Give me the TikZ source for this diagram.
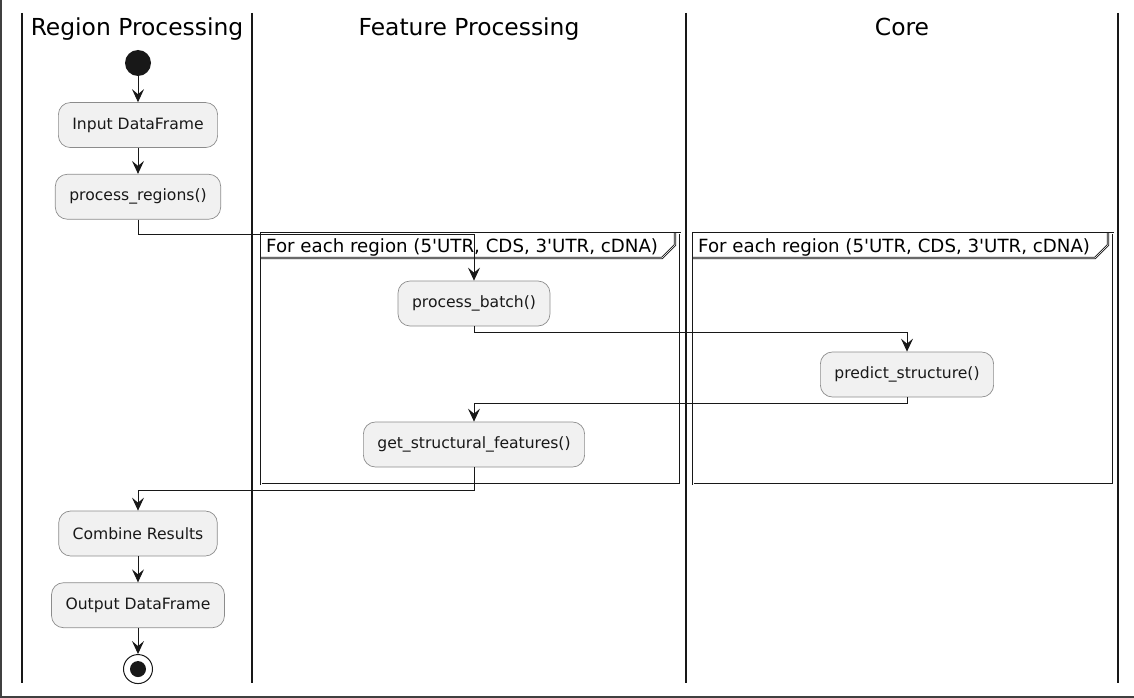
\documentclass[tikz,border=0pt]{standalone}
\usepackage{fontspec}
\setmainfont{DejaVu Sans}[Ligatures=TeXOff]
\usepackage{tikz}
\usetikzlibrary{arrows.meta,positioning}
\definecolor{boxfill}{RGB}{241,241,241}
\definecolor{boxline}{RGB}{140,140,140}
\definecolor{ink}{RGB}{24,24,24}
\tikzstyle{activity} = [rectangle, rounded corners=12pt, minimum height=45pt, inner xsep=14pt, draw=boxline, line width=0.7pt, fill=boxfill, text=ink, font=\fontsize{15.6}{18}\selectfont]
\tikzstyle{lanetitle} = [anchor=base, font=\fontsize{23.4}{28}\selectfont]
\tikzstyle{looplabel} = [anchor=base west, inner sep=0pt, font=\fontsize{18.2}{22}\selectfont]
\tikzstyle{lane} = [line width=1.6pt, ink]
\tikzstyle{loopframe} = [line width=0.9pt, double, double distance=0.6pt, ink]
\tikzstyle{arrow} = [line width=1pt, ink, -{Stealth[length=13pt,width=12pt,inset=5pt]}]
\newcommand{\loopname}{For each region (5'UTR, CDS, 3'UTR, cDNA)}

\begin{document}
\begin{tikzpicture}[x=1pt,y=-1pt]
\useasboundingbox (0,0) rectangle (1134,698);
\draw[line width=2pt, black!75] (1,0) -- (1,697) -- (1134,697);
% swimlanes
\foreach \x in {22,252,686,1118}
  \draw[lane] (\x,13) -- (\x,683);
\node (titleregion) [lanetitle] at (137,36) {Region Processing};
\node (titlefeature) [lanetitle] at (469,36) {Feature Processing};
\node (titlecore) [lanetitle] at (902,36) {Core};
% loop frames
\foreach \xa/\xb in {261/680, 693/1113} {
  \draw[loopframe] (\xa,233) rectangle (\xb,484);
  \draw[loopframe] (\xa,258) -- (\xb-18,258) -- (\xb-5,245) -- (\xb-5,233);
  \node[looplabel] at (\xa+5,252) {\loopname};
}
% activities
\node (start) [circle, fill=ink, minimum size=26pt, inner sep=0pt] at (138,63) {};
\node (input) [activity, below=26pt of start] {Input DataFrame};
\node (regions) [activity, below=26pt of input] {process\_regions()};
\node (batch) [activity] at (474,303.5) {process\_batch()};
\node (predict) [activity] at (907,374.5) {predict\_structure()};
\node (features) [activity] at (474,444.5) {get\_structural\_features()};
\node (combine) [activity] at (138,533.5) {Combine Results};
\node (output) [activity, below=26pt of combine] {Output DataFrame};
\node (stop) [circle, draw=ink, line width=1pt, fill=white, minimum size=29pt, inner sep=0pt, below=26pt of output] {};
\node (stopdot) [circle, fill=ink, minimum size=16pt, inner sep=0pt] at (stop) {};
% connectors
\draw[arrow] (start) -- (input);
\draw[arrow] (input) -- (regions);
\draw[arrow] (regions.south) -- ++(0,15) -| (batch.north);
\draw[arrow] (batch.south) -- ++(0,6) -| (predict.north);
\draw[arrow] (predict.south) -- ++(0,6) -| (features.north);
\draw[arrow] (features.south) -- ++(0,23) -| (combine.north);
\draw[arrow] (combine) -- (output);
\draw[arrow] (output) -- (stop);
\end{tikzpicture}
\end{document}
